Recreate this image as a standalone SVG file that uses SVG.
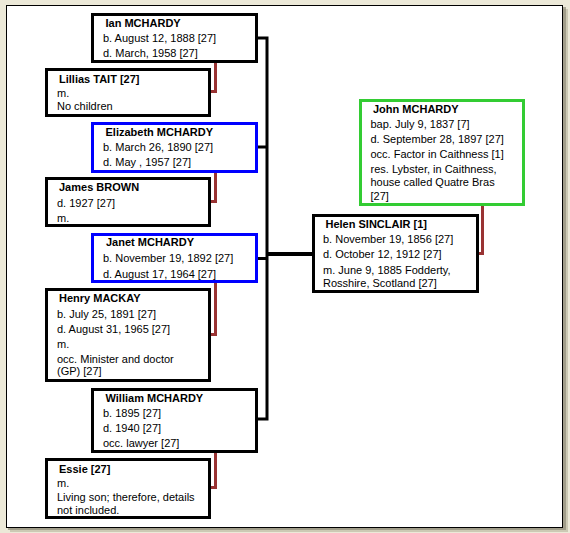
<svg xmlns="http://www.w3.org/2000/svg" width="570" height="533" viewBox="0 0 570 533">
<style>
.box{fill:#fff;stroke:#000;stroke-width:3}
.blue{stroke:#0000ff}
.green{stroke:#33cc33}
.conn{fill:none;stroke:#000;stroke-width:3}
.sp{fill:none;stroke:#993333;stroke-width:3}
text{font-family:"Liberation Sans",Arial,sans-serif;font-size:11px;fill:#000}
.n{font-weight:bold}
</style>
<rect x="0" y="0" width="570" height="533" fill="#ece9d8"/>
<rect x="10" y="9" width="558" height="523" fill="#b8b49c" opacity="0.6"/>
<rect x="8" y="7" width="558" height="523" fill="#8e8a78" opacity="0.7"/>
<rect x="6.5" y="5.5" width="556" height="522" fill="#fff" stroke="#000" stroke-width="1"/>
<g id="connectors">
<polyline class="conn" points="258,38 267,38 267,419 258,419"/>
<line class="conn" x1="258" y1="147" x2="267" y2="147"/>
<line class="conn" x1="258" y1="258.5" x2="267" y2="258.5"/>
<line x1="267" y1="254" x2="312" y2="254" stroke="#000" stroke-width="4"/>
<polyline class="sp" points="215.5,63 215.5,91.5 211,91.5"/>
<polyline class="sp" points="215.5,173 215.5,201.5 211,201.5"/>
<polyline class="sp" points="215.5,283 215.5,334.5 211,334.5"/>
<polyline class="sp" points="215.5,453 215.5,487.5 211,487.5"/>
<polyline class="sp" points="482.5,206 482.5,253.5 479,253.5"/>
</g>
<g id="ian">
<rect class="box" x="92.5" y="14.5" width="164" height="47"/>
<text class="n" x="105.5" y="27">Ian MCHARDY</text>
<text x="103" y="42">b. August 12, 1888 [27]</text>
<text x="103" y="57">d. March, 1958 [27]</text>
</g>
<g id="lillias">
<rect class="box" x="46.5" y="69.5" width="163" height="46"/>
<text class="n" x="59" y="83">Lillias TAIT [27]</text>
<text x="57" y="97">m.</text>
<text x="57" y="110">No children</text>
</g>
<g id="elizabeth">
<rect class="box blue" x="92.5" y="123.5" width="164" height="48"/>
<text class="n" x="105.5" y="136">Elizabeth MCHARDY</text>
<text x="103" y="151">b. March 26, 1890 [27]</text>
<text x="103" y="166">d. May , 1957 [27]</text>
</g>
<g id="james">
<rect class="box" x="46.5" y="178.5" width="163" height="47"/>
<text class="n" x="59" y="191">James BROWN</text>
<text x="57" y="207">d. 1927 [27]</text>
<text x="57" y="222">m.</text>
</g>
<g id="janet">
<rect class="box blue" x="92.5" y="234.5" width="164" height="47"/>
<text class="n" x="106" y="246">Janet MCHARDY</text>
<text x="103" y="262">b. November 19, 1892 [27]</text>
<text x="103" y="278">d. August 17, 1964 [27]</text>
</g>
<g id="henry">
<rect class="box" x="46.5" y="289.5" width="163" height="91"/>
<text class="n" x="59" y="302">Henry MACKAY</text>
<text x="57" y="318">b. July 25, 1891 [27]</text>
<text x="57" y="333">d. August 31, 1965 [27]</text>
<text x="57" y="348">m.</text>
<text x="57" y="363">occ. Minister and doctor</text>
<text x="57" y="375">(GP) [27]</text>
</g>
<g id="william">
<rect class="box" x="92.5" y="389.5" width="164" height="62"/>
<text class="n" x="105.5" y="402">William MCHARDY</text>
<text x="103" y="417">b. 1895 [27]</text>
<text x="103" y="432">d. 1940 [27]</text>
<text x="103" y="447">occ. lawyer [27]</text>
</g>
<g id="essie">
<rect class="box" x="46.5" y="459.5" width="163" height="58"/>
<text class="n" x="59" y="473">Essie [27]</text>
<text x="57" y="487">m.</text>
<text x="57" y="501">Living son; therefore, details</text>
<text x="57" y="514">not included.</text>
</g>
<g id="john">
<rect class="box green" x="360.5" y="100.5" width="163" height="104"/>
<text class="n" x="373" y="113">John MCHARDY</text>
<text x="370.5" y="128">bap. July 9, 1837 [7]</text>
<text x="370.5" y="143">d. September 28, 1897 [27]</text>
<text x="370.5" y="158">occ. Factor in Caithness [1]</text>
<text x="370.5" y="173">res. Lybster, in Caithness,</text>
<text x="370.5" y="186">house called Quatre Bras</text>
<text x="370.5" y="200">[27]</text>
</g>
<g id="helen">
<rect class="box" x="313.5" y="215.5" width="164" height="76"/>
<text class="n" x="325.5" y="228">Helen SINCLAIR [1]</text>
<text x="323" y="243">b. November 19, 1856 [27]</text>
<text x="323" y="258">d. October 12, 1912 [27]</text>
<text x="323" y="274">m. June 9, 1885 Fodderty,</text>
<text x="323" y="287">Rosshire, Scotland [27]</text>
</g>
</svg>
